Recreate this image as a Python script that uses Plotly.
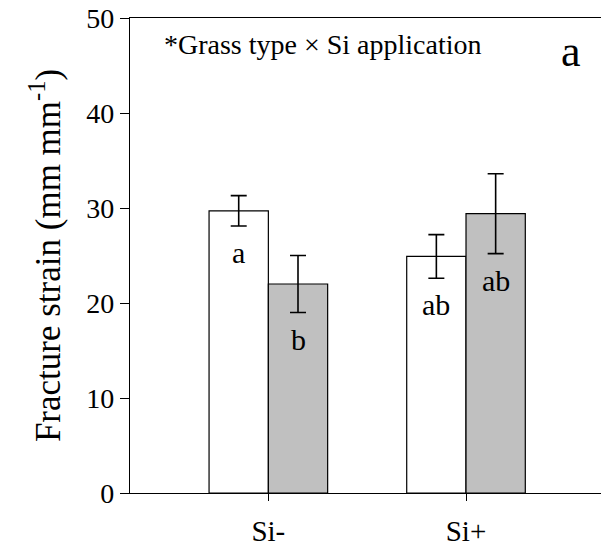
import plotly.graph_objects as go

# Fracture strain by Si application for two grass types
categories = ["Si-", "Si+"]
x_pos = [0, 1]
type1_mean = [29.7, 24.9]
type1_se = [1.6, 2.3]
type2_mean = [22.0, 29.4]
type2_se = [3.0, 4.2]
type1_letters = ["a", "ab"]
type2_letters = ["b", "ab"]

FONT = "Liberation Serif, Times New Roman, serif"
bar_w = 0.3

fig = go.Figure()
fig.add_trace(go.Bar(
    x=x_pos, y=type1_mean, width=bar_w, offset=-bar_w,
    marker=dict(color="white", line=dict(color="black", width=1.2)),
    error_y=dict(type="data", array=type1_se, color="black", thickness=1.6, width=8),
    showlegend=False,
))
fig.add_trace(go.Bar(
    x=x_pos, y=type2_mean, width=bar_w, offset=0,
    marker=dict(color="#c0c0c0", line=dict(color="black", width=1.2)),
    error_y=dict(type="data", array=type2_se, color="black", thickness=1.6, width=8),
    showlegend=False,
))

# significance letters just below each error bar
for xs, means, ses, letters, shift in [
    (x_pos, type1_mean, type1_se, type1_letters, -bar_w / 2),
    (x_pos, type2_mean, type2_se, type2_letters, bar_w / 2),
]:
    for xv, m, s, lab in zip(xs, means, ses, letters):
        fig.add_annotation(x=xv + shift, y=m - s - 2.8, text=lab, showarrow=False,
                           font=dict(family=FONT, size=30, color="black"),
                           xanchor="center", yanchor="middle")

fig.add_annotation(xref="paper", yref="paper", x=0.067, y=0.944,
                   text="*Grass type × Si application", showarrow=False,
                   xanchor="left", yanchor="middle",
                   font=dict(family=FONT, size=28, color="black"))
fig.add_annotation(xref="paper", yref="paper", x=0.936, y=0.93,
                   text="a", showarrow=False, xanchor="center", yanchor="middle",
                   font=dict(family=FONT, size=44, color="black"))

fig.update_layout(
    width=601, height=552,
    margin=dict(l=130, r=0, t=17.6, b=59.3),
    plot_bgcolor="white", paper_bgcolor="white",
    barmode="overlay",
    font=dict(family=FONT, color="black"),
    xaxis=dict(
        range=[-0.7, 1.683], tickvals=x_pos, ticktext=categories,
        showline=True, linecolor="black", linewidth=1.2, mirror=True,
        ticks="outside", ticklen=7, tickcolor="black", tickwidth=1,
        showgrid=False, zeroline=False, ticklabelstandoff=5,
        tickfont=dict(family=FONT, size=29, color="black"),
    ),
    yaxis=dict(
        range=[0, 50], tickvals=[0, 10, 20, 30, 40, 50],
        showline=True, linecolor="black", linewidth=1.2,
        ticks="outside", ticklen=9, tickcolor="black", tickwidth=1,
        showgrid=False, zeroline=False,
        tickfont=dict(family=FONT, size=28, color="black"),
        title=dict(text="Fracture strain (mm mm<sup>-1</sup>)",
                   font=dict(family=FONT, size=35, color="black"), standoff=15),
    ),
)

fig.write_html("out.html")
